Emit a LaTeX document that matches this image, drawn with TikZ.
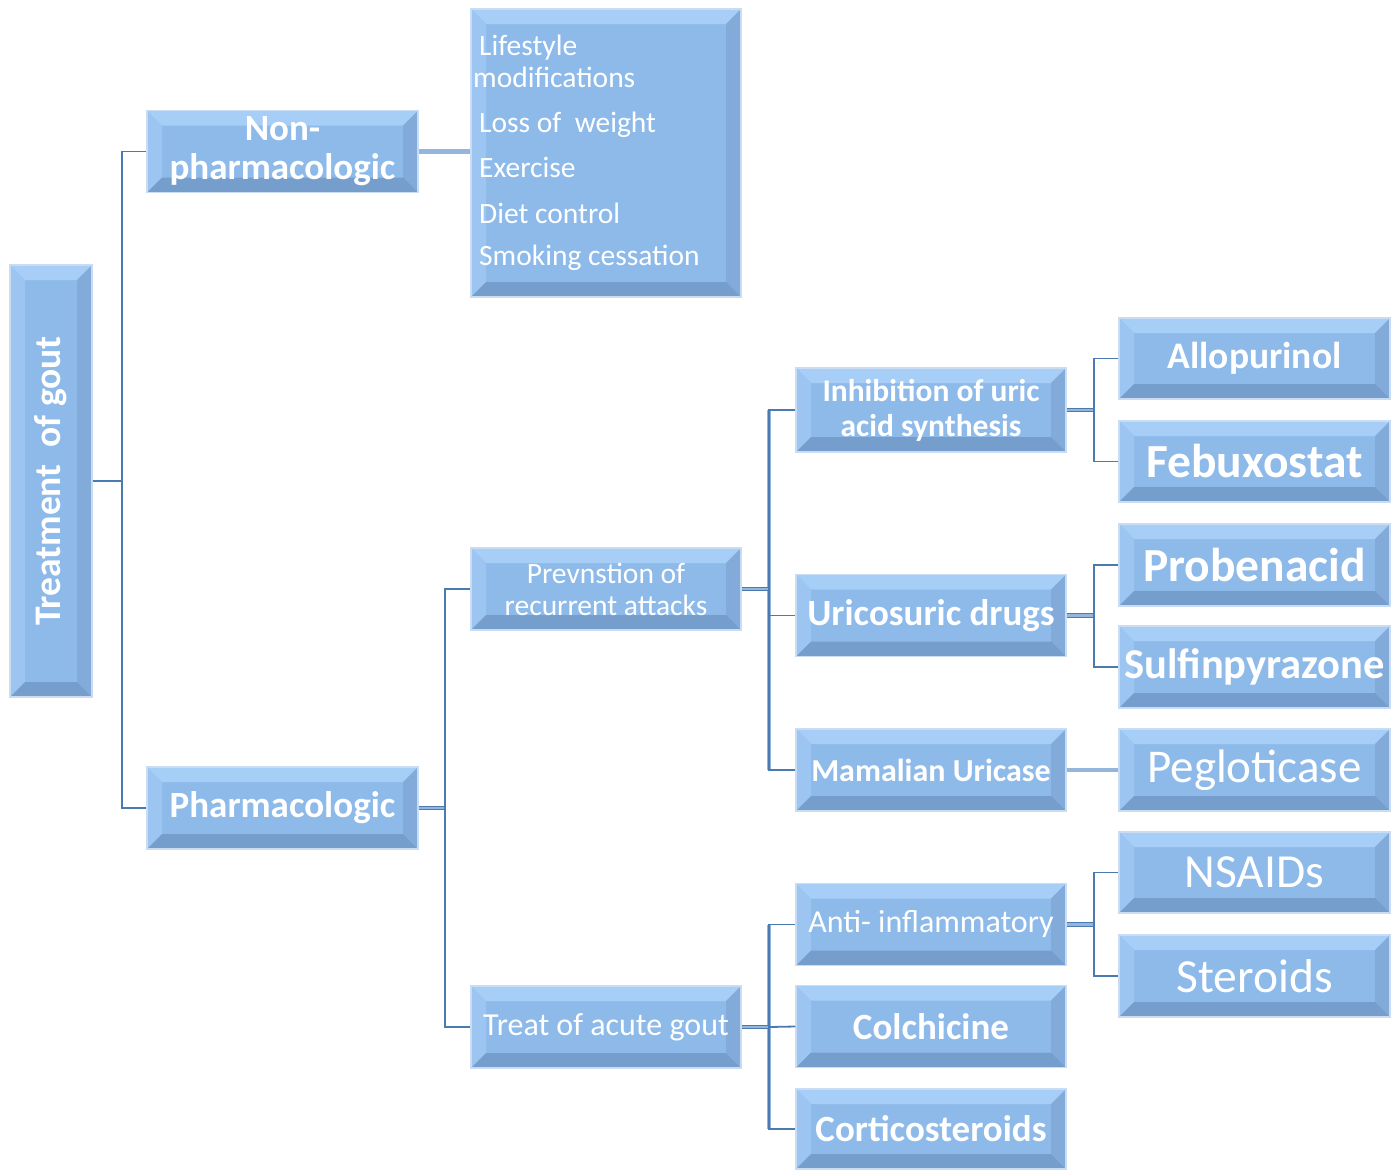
\documentclass[tikz,border=0pt]{standalone}
\usepackage{fontspec}
\setmainfont{Carlito}
\definecolor{boxfill}{HTML}{8EBAEA}
\definecolor{boxtop}{HTML}{A6CEF7}
\definecolor{boxleft}{HTML}{9DC5F1}
\definecolor{boxright}{HTML}{82ABD9}
\definecolor{boxbot}{HTML}{769ECC}
\definecolor{glow}{HTML}{C9DCF2}
\definecolor{lineD}{HTML}{4A7AB0}
\definecolor{lineL}{HTML}{94B5DC}
\def\bevsz{15pt}
\tikzset{
  box/.style={rectangle, minimum width=271pt, minimum height=82pt, inner sep=0pt,
    fill=boxfill, draw=glow, line width=1.5pt, text=white, align=center,
    path picture={
      \fill[boxtop] (path picture bounding box.north west) -- (path picture bounding box.north east)
        -- ([xshift=-\bevsz,yshift=-\bevsz]path picture bounding box.north east)
        -- ([xshift=\bevsz,yshift=-\bevsz]path picture bounding box.north west) -- cycle;
      \fill[boxleft] (path picture bounding box.north west) -- (path picture bounding box.south west)
        -- ([xshift=\bevsz,yshift=\bevsz]path picture bounding box.south west)
        -- ([xshift=\bevsz,yshift=-\bevsz]path picture bounding box.north west) -- cycle;
      \fill[boxright] (path picture bounding box.north east) -- (path picture bounding box.south east)
        -- ([xshift=-\bevsz,yshift=\bevsz]path picture bounding box.south east)
        -- ([xshift=-\bevsz,yshift=-\bevsz]path picture bounding box.north east) -- cycle;
      \fill[boxbot] (path picture bounding box.south west) -- (path picture bounding box.south east)
        -- ([xshift=-\bevsz,yshift=\bevsz]path picture bounding box.south east)
        -- ([xshift=\bevsz,yshift=\bevsz]path picture bounding box.south west) -- cycle;
    }},
  conn/.style={draw=lineD, line width=1.8pt},
  conndbl/.style={draw=lineD, line width=1.2pt, double=lineL, double distance=2.2pt},
  trunk/.style={draw=lineL, line width=4pt},
  straight/.style={draw=lineL, line width=4.5pt},
  txt/.style={text=white, inner sep=0pt, anchor=base west, font=\fontsize{29.5}{32}\selectfont},
}
\begin{document}
\begin{tikzpicture}[x=1pt,y=-1pt]
\useasboundingbox (0,0) rectangle (1391,1170);
% boxes
\node[box, minimum width=82pt, minimum height=432pt] (root) at (51,481) {};
\node[rotate=90, text=white, font=\bfseries\fontsize{37.5}{40}\selectfont] (roottxt) at (51,481) {Treatment\ \ of gout};
\node[box, font=\bfseries\fontsize{37}{39}\selectfont] (non) at (282.5,151.5) {Non-\\pharmacologic};
\node[box, minimum width=270pt, minimum height=288pt] (life) at (606,153) {};
\node[txt] (l1) at (479,55) {Lifestyle};
\node[txt] (l2) at (473,87) {modifications};
\node[txt] (l3) at (479,132) {Loss of\ \ weight};
\node[txt] (l4) at (479,177) {Exercise};
\node[txt] (l5) at (479,223) {Diet control};
\node[txt] (l6) at (479,265) {Smoking cessation};
\node[box, font=\bfseries\fontsize{37}{40}\selectfont] (pharm) at (282.5,808) {Pharmacologic};
\node[box, minimum width=270pt, font=\fontsize{29.5}{32}\selectfont] (prev) at (606,589) {Prevnstion of\\recurrent attacks};
\node[box, minimum width=270pt, font=\fontsize{32}{34}\selectfont] (treat) at (606,1027) {Treat of acute gout};
\node[box, minimum width=270pt, minimum height=84pt, font=\bfseries\fontsize{31.5}{35}\selectfont] (inhib) at (931,410) {Inhibition of uric\\acid synthesis};
\node[box, minimum width=270pt, font=\bfseries\fontsize{37}{40}\selectfont] (uric) at (931,615.5) {Uricosuric drugs};
\node[box, minimum width=270pt, font=\bfseries\fontsize{32}{35}\selectfont] (mam) at (931,770) {Mamalian Uricase};
\node[box, minimum width=270pt, font=\fontsize{32}{35}\selectfont] (anti) at (931,924.5) {Anti- inflammatory};
\node[box, minimum width=270pt, font=\bfseries\fontsize{37}{40}\selectfont] (colch) at (931,1026.5) {Colchicine};
\node[box, minimum width=270pt, minimum height=80pt, font=\bfseries\fontsize{37}{40}\selectfont] (cort) at (931,1129) {Corticosteroids};
\node[box, minimum height=81pt, font=\bfseries\fontsize{37.5}{40}\selectfont] (allo) at (1254.5,358.5) {Allopurinol};
\node[box, minimum height=81pt, font=\bfseries\fontsize{47.5}{50}\selectfont] (febu) at (1254.5,461.5) {Febuxostat};
\node[box, font=\bfseries\fontsize{47.5}{50}\selectfont] (prob) at (1254.5,565) {Probenacid};
\node[box, font=\bfseries\fontsize{42.5}{45}\selectfont] (sulf) at (1254.5,667) {Sulfinpyrazone};
\node[box, font=\fontsize{47}{50}\selectfont] (peg) at (1254.5,770) {Pegloticase};
\node[box, minimum height=81pt, font=\fontsize{47.5}{50}\selectfont] (nsaid) at (1254.5,872.5) {NSAIDs};
\node[box, font=\fontsize{47.5}{50}\selectfont] (ster) at (1254.5,976) {Steroids};
% connectors
\coordinate (j0) at ([xshift=29pt]root.east);
\draw[conn] (root.east) -- (j0);
\draw[conn] (j0) |- (non.west);
\draw[conn] (j0) |- (pharm.west);
\draw[straight] (non.east) -- (non.east -| life.west);
\coordinate (j1) at ([xshift=26pt]pharm.east);
\draw[conndbl] (pharm.east) -- (j1);
\draw[conn] (j1) |- (prev.west);
\draw[conn] (j1) |- (treat.west);
\coordinate (j2) at ([xshift=27pt]prev.east);
\draw[trunk] (j2 |- inhib.west) -- (j2 |- mam.west);
\draw[conndbl] (prev.east) -- (j2);
\draw[conn] (j2) |- (inhib.west);
\draw[conn] (j2) |- (uric.west);
\draw[conn] (j2) |- (mam.west);
\coordinate (j3) at ([xshift=27pt]treat.east);
\draw[trunk] (j3 |- anti.west) -- (j3 |- cort.west);
\draw[conndbl] (treat.east) -- (j3);
\draw[conn] (j3) |- (anti.west);
\draw[conn] (j3) -- (colch.west);
\draw[conn] (j3) |- (cort.west);
\coordinate (j4) at ([xshift=27pt]inhib.east);
\draw[conndbl] (inhib.east) -- (j4);
\draw[conn] (j4) |- (allo.west);
\draw[conn] (j4) |- (febu.west);
\coordinate (j5) at ([xshift=27pt]uric.east);
\draw[conndbl] (uric.east) -- (j5);
\draw[conn] (j5) |- (prob.west);
\draw[conn] (j5) |- (sulf.west);
\draw[straight] (mam.east) -- (peg.west);
\coordinate (j6) at ([xshift=27pt]anti.east);
\draw[conndbl] (anti.east) -- (j6);
\draw[conn] (j6) |- (nsaid.west);
\draw[conn] (j6) |- (ster.west);
\end{tikzpicture}
\end{document}
